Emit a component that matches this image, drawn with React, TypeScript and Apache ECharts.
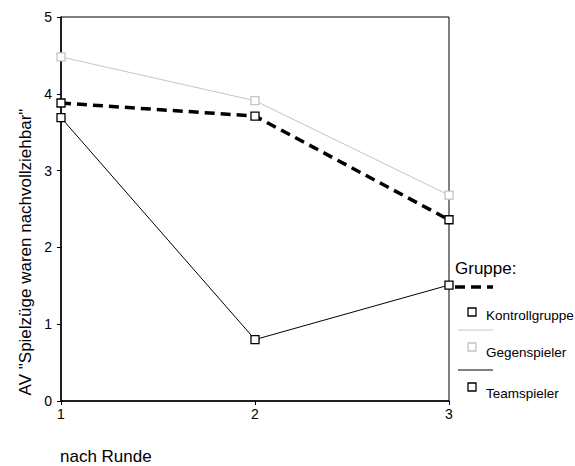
import React, { useEffect, useRef } from "react";
import * as echarts from "echarts";

const rounds = [1, 2, 3];
const seriesNames = ["Kontrollgruppe", "Gegenspieler", "Teamspieler"];
const kontrollgruppe = [3.88, 3.71, 2.36];
const gegenspieler = [4.48, 3.91, 2.68];
const teamspieler = [3.69, 0.8, 1.51];
const yAxisTitle = 'AV "Spielzüge waren nachvollziehbar"';
const xAxisTitle = "nach Runde";
const legendTitle = "Gruppe:";

const FONT = "Liberation Sans, Arial, sans-serif";

export default function App() {
  const ref = useRef<HTMLDivElement>(null);
  useEffect(() => {
    document.body.style.margin = "0";
    if (!ref.current) return;
    const chart = echarts.init(ref.current, undefined, { renderer: "svg" });
    const styles = [
      { color: "#000", width: 3.5, dash: [10, 6], sym: "#000" },
      { color: "#c4c4c4", width: 1, dash: null, sym: "#c4c4c4" },
      { color: "#000", width: 1, dash: null, sym: "#000" },
    ];
    const data = [kontrollgruppe, gegenspieler, teamspieler];
    const legendLineY = [287, 330, 370];
    const legendSymY = [312, 347, 387];
    const legendTextY = [315, 352, 393];
    const graphics: any[] = [
      {
        type: "text",
        x: 455,
        y: 268,
        style: { text: legendTitle, font: `17px ${FONT}`, fill: "#000", verticalAlign: "middle" },
        z: 100,
      },
      {
        type: "text",
        x: 25,
        y: 252,
        rotation: Math.PI / 2,
        style: {
          text: yAxisTitle,
          font: `17px ${FONT}`,
          fill: "#000",
          align: "center",
          verticalAlign: "middle",
        },
      },
      {
        type: "text",
        x: 60,
        y: 456,
        style: { text: xAxisTitle, font: `17px ${FONT}`, fill: "#000", verticalAlign: "middle" },
      },
    ];
    seriesNames.forEach((name, i) => {
      const s = styles[i];
      graphics.push({
        type: "line",
        shape: { x1: i === 0 ? 455 : 458, y1: legendLineY[i], x2: 493, y2: legendLineY[i] },
        style: { stroke: s.color, lineWidth: s.width, lineDash: s.dash },
        z: 100,
      });
      graphics.push({
        type: "rect",
        shape: { x: 468, y: legendSymY[i] - 4, width: 8, height: 8 },
        style: { fill: "#fff", stroke: s.sym, lineWidth: 1.3 },
        z: 100,
      });
      graphics.push({
        type: "text",
        x: 486,
        y: legendTextY[i],
        style: { text: name, font: `13.5px ${FONT}`, fill: "#000", verticalAlign: "middle" },
        z: 100,
      });
    });

    chart.setOption({
      animation: false,
      grid: {
        left: 61,
        top: 17,
        right: 126,
        bottom: 65,
        show: true,
        borderColor: "#000",
        borderWidth: 1,
      },
      xAxis: {
        type: "value",
        min: 1,
        max: 3,
        interval: 1,
        axisLine: { show: true, lineStyle: { color: "#000", width: 1.5 } },
        axisTick: { show: true, length: 4, lineStyle: { color: "#000" } },
        axisLabel: { color: "#000", fontSize: 14, fontFamily: FONT, margin: 6 },
        splitLine: { show: false },
      },
      yAxis: {
        type: "value",
        min: 0,
        max: 5,
        interval: 1,
        axisLine: { show: true, lineStyle: { color: "#000", width: 1.5 } },
        axisTick: { show: true, length: 4, lineStyle: { color: "#000" } },
        axisLabel: { color: "#000", fontSize: 14, fontFamily: FONT, margin: 9 },
        splitLine: { show: false },
      },
      graphic: graphics,
      series: seriesNames.map((name, i) => ({
        name,
        type: "line",
        data: rounds.map((r, j) => [r, data[i][j]]),
        symbol: "rect",
        symbolSize: 8,
        showAllSymbol: true,
        itemStyle: { color: "#fff", borderColor: styles[i].sym, borderWidth: 1.3 },
        lineStyle: {
          color: styles[i].color,
          width: styles[i].width,
          type: styles[i].dash ? styles[i].dash : "solid",
        },
        z: i === 1 ? 1 : 2,
      })),
    });
    return () => chart.dispose();
  }, []);
  return <div ref={ref} style={{ width: 575, height: 466 }} />;
}
